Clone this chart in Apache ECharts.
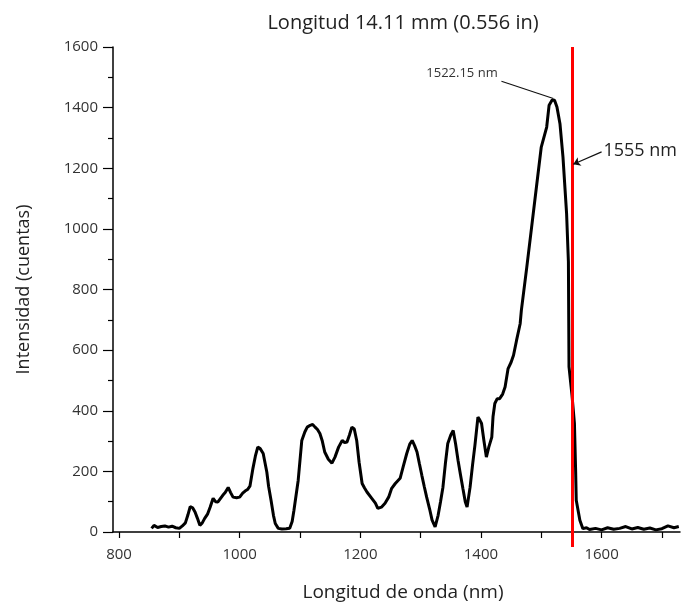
<!DOCTYPE html>
<html>
<head>
<meta charset="utf-8">
<script src="https://cdn.jsdelivr.net/npm/echarts@6/dist/echarts.min.js"></script>
<style>
html,body{margin:0;padding:0;background:#fff;}
#chart{width:681px;height:602px;}
</style>
</head>
<body>
<div id="chart"></div>
<script>
// longitud de onda (nm)
var wavelength = [854,858,864,870,876,882,888,894,900,905,910,914,918,922,926,930,934,938,942,947,951,956,960,964,968,972,976,981,985,989,995,1000,1005,1009,1013,1017,1022,1026,1030,1034,1039,1045,1048,1052,1056,1059,1064,1070,1077,1083,1087,1090,1097,1103,1108,1112,1117,1121,1125,1129,1133,1137,1141,1147,1153,1158,1164,1170,1174,1178,1182,1186,1190,1194,1198,1203,1207,1211,1219,1225,1229,1235,1241,1247,1252,1258,1266,1271,1277,1282,1286,1290,1294,1298,1302,1306,1310,1315,1319,1324,1329,1333,1337,1341,1345,1350,1354,1358,1362,1366,1370,1374,1377,1382,1386,1390,1395,1398,1401,1405,1409,1413,1418,1420,1423,1427,1431,1436,1440,1445,1450,1454,1459,1465,1467,1476,1484,1492,1500,1509,1513,1518,1522,1526,1531,1536,1542,1545,1546,1551,1555,1557,1558,1564,1569,1575,1580,1590,1600,1610,1620,1630,1640,1650,1660,1670,1680,1690,1700,1710,1720,1728];
// intensidad (cuentas)
var intensity = [12,22,15,18,20,16,19,14,12,20,30,55,84,80,66,45,22,30,45,60,82,111,100,99,110,121,130,147,130,115,113,115,128,135,140,151,210,250,280,275,259,198,150,105,55,28,12,10,11,12,35,72,170,302,330,346,352,355,346,338,325,300,264,240,227,247,280,302,295,297,320,346,340,302,230,160,145,132,111,95,78,82,95,115,144,160,177,215,259,290,302,285,264,225,187,150,115,75,39,17,55,100,148,225,292,320,335,290,237,190,144,100,82,148,220,286,379,370,358,300,247,280,313,380,424,440,440,455,478,539,560,583,632,687,731,874,1006,1138,1270,1336,1408,1425,1424,1402,1347,1237,1050,891,545,450,358,200,105,39,11,14,8,12,7,14,9,12,18,10,15,9,13,7,11,20,14,18];

var xTicks = [800,900,1000,1100,1200,1300,1400,1500,1600,1700];
var xLabels = [800,1000,1200,1400,1600];

var peak = [1520, 1430];          // pico 1522.15 nm
var peakLabelEnd = [1434, 1487];
var cutLine = 1551;               // línea 1555 nm
var cutArrowFrom = [1600, 1254];
var cutArrowTo = [1553, 1213];

var points = [];
for (var i = 0; i < wavelength.length; i++) {
    points.push([wavelength[i], intensity[i]]);
}

var font = 'Open Sans';
function plain(v) { return String(v); }
var chart = echarts.init(document.getElementById('chart'));
var option = {
    backgroundColor: '#fff',
    animation: false,
    title: {
        text: 'Longitud 14.11 mm (0.556 in)',
        left: 398,
        top: 8,
        textAlign: 'center',
        textStyle: {fontFamily: font, fontSize: 20, fontWeight: 'normal', color: '#222'}
    },
    grid: {left: 113, right: 1, top: 47, bottom: 70, containLabel: false, outerBoundsMode: 'none'},
    xAxis: {
        type: 'value',
        min: 790,
        max: 1730,
        name: 'Longitud de onda (nm)',
        nameLocation: 'middle',
        nameGap: 51,
        nameTextStyle: {fontFamily: font, fontSize: 19, color: '#222', padding: [0, 0, 0, 13]},
        axisLine: {lineStyle: {color: '#000', width: 1.5}},
        axisTick: {customValues: xTicks, length: 6, lineStyle: {color: '#000', width: 1.2}},
        axisLabel: {customValues: xLabels, margin: 15, fontFamily: font, fontSize: 15, color: '#333', formatter: plain},
        splitLine: {show: false}
    },
    yAxis: {
        type: 'value',
        min: 0,
        max: 1600,
        interval: 200,
        name: 'Intensidad (cuentas)',
        nameLocation: 'middle',
        nameGap: 80,
        nameTextStyle: {fontFamily: font, fontSize: 18, color: '#222'},
        axisLine: {show: true, lineStyle: {color: '#000', width: 1.5}},
        axisTick: {show: true, length: 10, lineStyle: {color: '#000', width: 1.2}},
        minorTick: {show: true, splitNumber: 2, length: 5, lineStyle: {color: '#000', width: 1.2}},
        axisLabel: {margin: 15, fontFamily: font, fontSize: 15, color: '#333', formatter: plain},
        splitLine: {show: false}
    },
    series: [{
        name: 'espectro',
        type: 'line',
        data: points,
        showSymbol: false,
        clip: false,
        lineStyle: {color: '#000', width: 3},
        markLine: {
            silent: true,
            animation: false,
            data: [
                [
                    {xAxis: cutLine, yAxis: 1600, symbol: 'none',
                     lineStyle: {color: '#ff0000', width: 3, type: 'solid'}, label: {show: false}},
                    {xAxis: cutLine, y: 547, symbol: 'none'}
                ],
                [
                    {coord: peak, symbol: 'none',
                     lineStyle: {color: '#111', width: 1.2, type: 'solid'},
                     label: {show: true, position: 'end', distance: [4, 26], formatter: '1522.15 nm',
                             fontFamily: font, fontSize: 13, color: '#333'}},
                    {coord: peakLabelEnd, symbol: 'none'}
                ],
                [
                    {coord: cutArrowFrom, symbol: 'none',
                     lineStyle: {color: '#111', width: 1.2, type: 'solid'},
                     label: {show: true, position: 'start', distance: 2, formatter: '1555 nm',
                             fontFamily: font, fontSize: 18, color: '#222'}},
                    {coord: cutArrowTo, symbol: 'arrow', symbolSize: 7}
                ]
            ]
        }
    }]
};
chart.setOption(option);
</script>
</body>
</html>
